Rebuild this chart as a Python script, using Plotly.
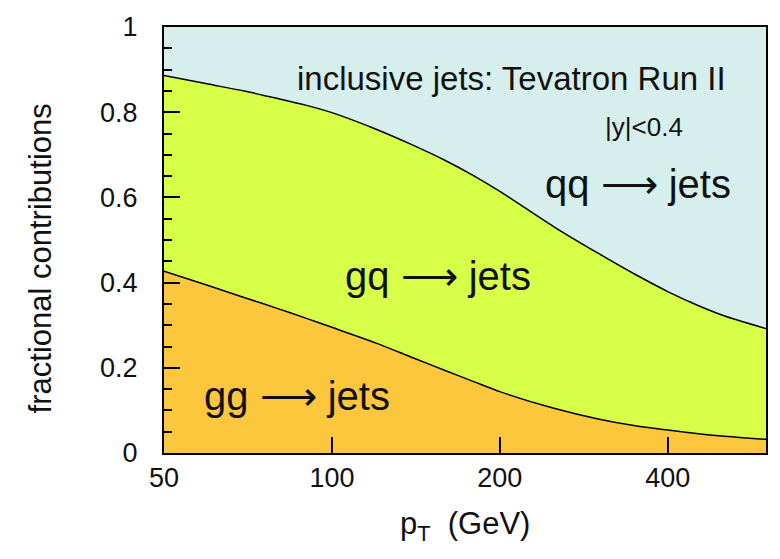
import plotly.graph_objects as go
import numpy as np

# transverse momentum (GeV)
pt = [50, 60, 70, 80, 90, 100, 120, 140, 160, 180, 200, 250, 300, 350, 400, 450, 500, 600]
# cumulative fractions: gg, gg+gq (rest up to 1 is qq)
gg = [0.427, 0.393, 0.364, 0.339, 0.316, 0.295, 0.258, 0.223, 0.193, 0.167, 0.144,
      0.105, 0.080, 0.064, 0.054, 0.046, 0.040, 0.032]
gg_gq = [0.886, 0.866, 0.849, 0.832, 0.816, 0.799, 0.760, 0.722, 0.686, 0.650, 0.614,
         0.531, 0.469, 0.419, 0.379, 0.348, 0.324, 0.292]

x_ticks = [50, 100, 200, 400]
y_ticks = [0, 0.2, 0.4, 0.6, 0.8, 1]

C_QQ = "#d6efed"
C_GQ = "#d8ff48"
C_GG = "#fdc73d"
FONT = "Liberation Sans"

fig = go.Figure()
fig.add_trace(go.Scatter(x=pt, y=gg, mode="lines",
                         line=dict(color="black", width=1.5, shape="spline", smoothing=0.8),
                         fill="tozeroy", fillcolor=C_GG, showlegend=False, hoverinfo="skip"))
fig.add_trace(go.Scatter(x=pt, y=gg_gq, mode="lines",
                         line=dict(color="black", width=1.5, shape="spline", smoothing=0.8),
                         fill="tonexty", fillcolor=C_GQ, showlegend=False, hoverinfo="skip"))

W, H = 780, 559
ml, mr, mt, mb = 164, 13, 20, 106
pw = W - ml - mr
ph = H - mt - mb

fig.update_layout(
    width=W, height=H,
    margin=dict(l=ml, r=mr, t=mt, b=mb, pad=0),
    paper_bgcolor="white", plot_bgcolor=C_QQ,
    font=dict(family=FONT, size=27, color="#111111"),
    xaxis=dict(type="log", range=[np.log10(50), np.log10(600)],
               tickmode="array", tickvals=x_ticks, ticktext=[str(v) for v in x_ticks],
               ticks="inside", ticklen=16, tickwidth=1.5, tickcolor="#000000",
               showline=True, linecolor="black", linewidth=2, mirror=True,
               showgrid=False, zeroline=False,
               tickfont=dict(size=27)),
    yaxis=dict(range=[0, 1], tickmode="array", tickvals=y_ticks,
               ticktext=["0", "0.2", "0.4", "0.6", "0.8", "1"],
               ticks="inside", ticklen=16, tickwidth=1.5, tickcolor="#000000",
               minor=dict(dtick=0.05, ticks="inside", ticklen=8, tickwidth=1.5,
                          tickcolor="#000000", showgrid=False),
               showline=True, linecolor="black", linewidth=2, mirror=True,
               showgrid=False, zeroline=False, ticklabelstandoff=19,
               tickfont=dict(size=27)),
)

def px_x(p):
    return (p - ml) / pw

def px_y(p):
    return (H - mb - p) / ph

fig.add_annotation(text="fractional contributions", xref="paper", yref="paper",
                   x=px_x(40), y=px_y(255), textangle=-90, showarrow=False,
                   font=dict(size=31), xanchor="center", yanchor="middle")
fig.add_annotation(text="p<sub>T</sub>  (GeV)", xref="paper", yref="paper",
                   x=px_x(466), y=px_y(527), showarrow=False,
                   font=dict(size=31), xanchor="center", yanchor="middle")

fig.add_annotation(text="inclusive jets: Tevatron Run II", xref="paper", yref="paper",
                   x=px_x(512), y=px_y(72), showarrow=False,
                   font=dict(size=33), xanchor="center", yanchor="middle")
fig.add_annotation(text="|y|<0.4", xref="paper", yref="paper",
                   x=px_x(645), y=px_y(122), showarrow=False,
                   font=dict(size=26), xanchor="center", yanchor="middle")
fig.add_annotation(text="qq \u27f6 jets", xref="paper", yref="paper",
                   x=px_x(639), y=px_y(180), showarrow=False,
                   font=dict(size=40), xanchor="center", yanchor="middle")
fig.add_annotation(text="gq \u27f6 jets", xref="paper", yref="paper",
                   x=px_x(438), y=px_y(273), showarrow=False,
                   font=dict(size=40), xanchor="center", yanchor="middle")
fig.add_annotation(text="gg \u27f6 jets", xref="paper", yref="paper",
                   x=px_x(297), y=px_y(395), showarrow=False,
                   font=dict(size=40), xanchor="center", yanchor="middle")

fig.write_html("out.html")
